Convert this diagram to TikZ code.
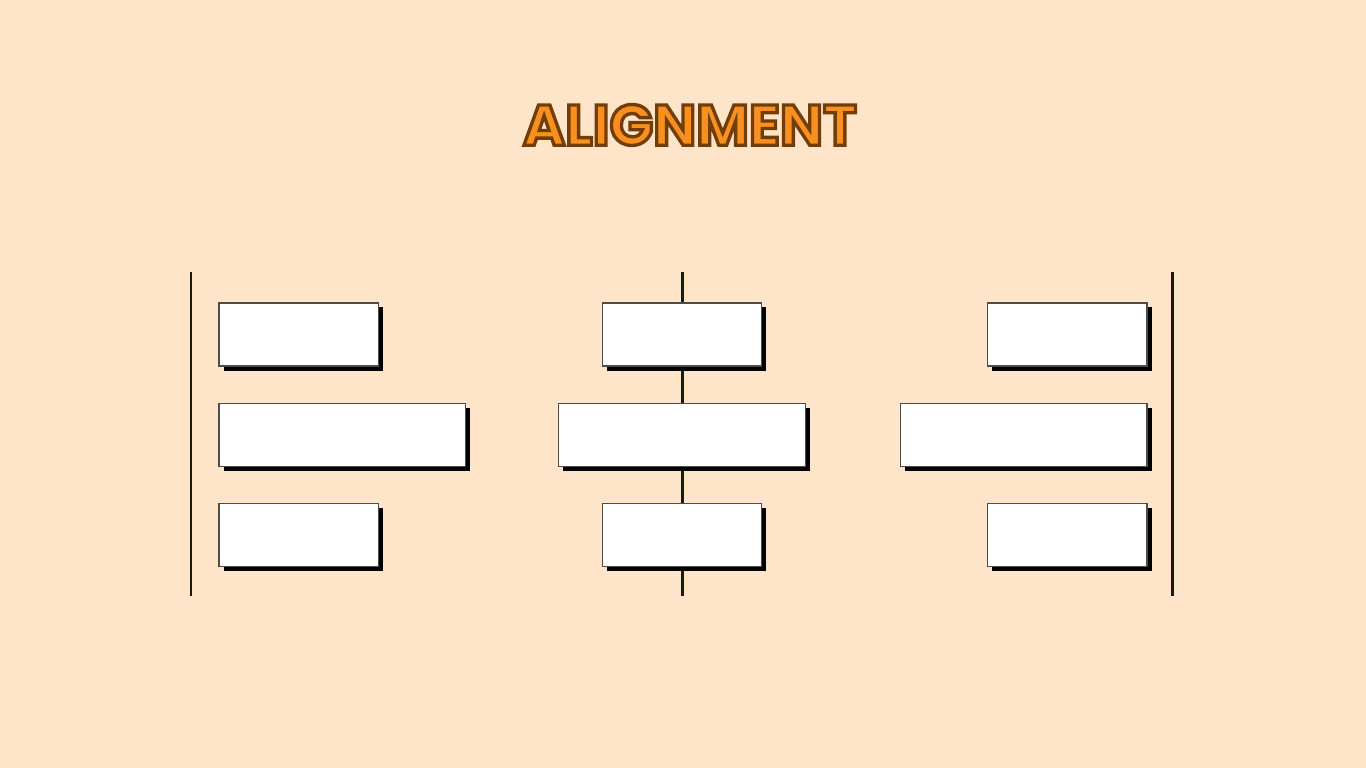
\documentclass[tikz,border=0pt]{standalone}
\usepackage{fontspec}
\usetikzlibrary{positioning,shadows}
\newfontfamily\titlefont{Poppins}
\definecolor{paper}{RGB}{254,228,200}
\definecolor{titleorange}{RGB}{247,144,30}
% outlined letters: fill, then stroke in brown
\newcommand\outlined[1]{{\color{titleorange}\special{pdf:literal q 2 Tr 0.95 w 0.45 0.24 0.04 RG}#1\special{pdf:literal Q}}}
\tikzset{
  guide/.style={line width=0.85pt,black!90},
  bar/.style={draw=black!70,fill=white,line width=0.3pt,inner sep=0pt,outer sep=0pt,
    minimum height=0.63cm,
    drop shadow={shadow xshift=0.045cm,shadow yshift=-0.045cm,fill=black,opacity=1}},
  shortbar/.style={bar,minimum width=1.59cm},
  longbar/.style={bar,minimum width=2.46cm}
}
\begin{document}
\begin{tikzpicture}[x=0.01cm,y=-0.01cm]
    % Background and frame
    \fill[paper] (0,0) rectangle (1366,768);
    \useasboundingbox (0,0) rectangle (1366,768);

    % Title
    \node (title) at (690,125)
      {\titlefont\bfseries\fontsize{16.3pt}{16pt}\selectfont\outlined{ALIGNMENT}};

    % Guide lines for the three alignments
    \coordinate (ltop) at (191,272); \coordinate (lbot) at (191,596);
    \coordinate (ctop) at (682,272); \coordinate (cbot) at (682,596);
    \coordinate (rtop) at (1172,272); \coordinate (rbot) at (1172,596);
    \draw[guide] (ltop) -- (lbot);
    \draw[guide] (ctop) -- (cbot);
    \draw[guide] (rtop) -- (rbot);

    % Left aligned
    \node [shortbar, anchor=north west] (l1) at (219,303) {};
    \node [longbar, below=0.37cm of l1.south west, anchor=north west] (l2) {};
    \node [shortbar, below=0.37cm of l2.south west, anchor=north west] (l3) {};

    % Centred
    \node [shortbar, anchor=north] (c1) at (682,303) {};
    \node [longbar, below=0.37cm of c1] (c2) {};
    \node [shortbar, below=0.37cm of c2] (c3) {};

    % Right aligned
    \node [shortbar, anchor=north east] (r1) at (1147,303) {};
    \node [longbar, below=0.37cm of r1.south east, anchor=north east] (r2) {};
    \node [shortbar, below=0.37cm of r2.south east, anchor=north east] (r3) {};
\end{tikzpicture}
\end{document}
